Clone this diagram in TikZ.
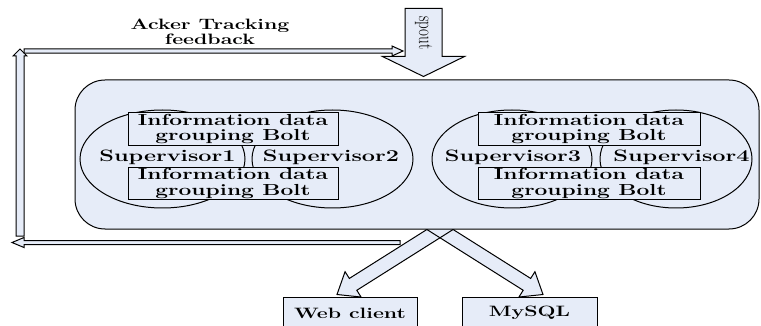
\documentclass[tikz,border=0pt]{standalone}
\usepackage{graphicx}
\usepackage{fontspec}
\usetikzlibrary{calc,shapes.geometric}
\definecolor{panelblue}{RGB}{230,236,248}

% wide, heavy lettering used throughout the figure
\newcommand\wide[1]{\scalebox{1.42}[1]{#1}}
\newcommand\twolines[2]{\wide{\begin{tabular}{@{}c@{}}#1\\#2\end{tabular}}}
\newcommand\heavy{\bfseries\addfontfeature{FakeBold=0.6}}

% outline of a block arrow: [style]{tail}{tip}{shaft half width}{head half width}{head length}
\newcommand\blockarrow[6][]{%
  \coordinate (ba-h) at ($(#3)!#6!(#2)$);
  \path[#1] ($(#2)!#4!90:(#3)$) -- ($(ba-h)!#4!-90:(#2)$) -- ($(ba-h)!#5!-90:(#2)$)
    -- (#3) -- ($(ba-h)!#5!90:(#2)$) -- ($(ba-h)!#4!90:(#2)$)
    -- ($(#2)!#4!-90:(#3)$) -- cycle;
}

\pgfdeclarelayer{behind}
\pgfsetlayers{behind,main}

\tikzset{
  panel/.style={draw, fill=panelblue, rounded corners=30pt, line width=1pt, inner sep=0pt},
  supnode/.style={ellipse, draw, line width=1pt, inner sep=0pt},
  bolt/.style={draw, fill=panelblue, line width=1pt, inner sep=0pt,
    font=\fontsize{16}{13.5}\selectfont\heavy},
  suplabel/.style={inner sep=0pt, font=\fontsize{16.5}{14}\selectfont\heavy},
  store/.style={draw, fill=panelblue, line width=1pt, inner sep=0pt,
    font=\fontsize{15}{14}\selectfont\heavy},
  arrowfill/.style={fill=panelblue},
  arrowline/.style={draw, line width=1pt, line join=miter},
}

\begin{document}
\begin{tikzpicture}[x=1pt, y=-1pt]
\useasboundingbox (0,0) rectangle (761,326);
\clip (0,0) rectangle (761,326);

% topology panel
\node[panel, minimum width=684pt, minimum height=149pt] (topo) at (417,154.5) {};

% supervisors
\node[supnode, minimum width=165pt, minimum height=98pt] (s1) at (162.5,159) {};
\node[supnode, minimum width=161pt, minimum height=98pt] (s2) at (332.5,159) {};
\node[supnode, minimum width=160pt, minimum height=98pt] (s3) at (512,159) {};
\node[supnode, minimum width=152pt, minimum height=98pt] (s4) at (676,159) {};

% bolts
\node[bolt, minimum width=210pt, minimum height=33pt] (b1) at (233,129.5) {\twolines{Information data}{grouping Bolt}};
\node[bolt, minimum width=210pt, minimum height=32pt] (b2) at (233,184) {\twolines{Information data}{grouping Bolt}};
\node[bolt, minimum width=222pt, minimum height=33pt] (b3) at (589,129.5) {\twolines{Information data}{grouping Bolt}};
\node[bolt, minimum width=222pt, minimum height=32pt] (b4) at (589,184) {\twolines{Information data}{grouping Bolt}};

\node[suplabel] (l1) at (167.5,157) {\wide{Supervisor1}};
\node[suplabel] (l2) at (331,157) {\wide{Supervisor2}};
\node[suplabel] (l3) at (513,157) {\wide{Supervisor3}};
\node[suplabel] (l4) at (681.5,157) {\wide{Supervisor4}};

% outputs
\node[store, minimum width=134pt, minimum height=32pt] (web) at (350,313) {\wide{Web client}};
\node[store, minimum width=135pt, minimum height=32pt] (sql) at (529.5,313) {\wide{MySQL}};

% outgoing arrows, starting under the panel
\begin{pgfonlayer}{behind}
  \coordinate (forkmid) at ($(topo.south)+(23,0)$);
  \coordinate (webtip) at ($(web.north)+(-13,-2)$);
  \coordinate (sqltip) at ($(sql.north)+(13.5,-2)$);
  \coordinate (webtail) at ($(webtip)!1.3!(forkmid)$);
  \coordinate (sqltail) at ($(sqltip)!1.3!(forkmid)$);
  \blockarrow[arrowfill]{webtail}{webtip}{7pt}{15pt}{19pt}
  \blockarrow[arrowfill]{sqltail}{sqltip}{7pt}{15pt}{19pt}
  \blockarrow[arrowline]{webtail}{webtip}{7pt}{15pt}{19pt}
  \blockarrow[arrowline]{sqltail}{sqltip}{7pt}{15pt}{19pt}
\end{pgfonlayer}

% spout input
\coordinate (spouttip) at ($(topo.north)+(6.5,-3)$);
\coordinate (spouttail) at ($(spouttip)+(0,-68)$);
\blockarrow[arrowfill, arrowline]{spouttail}{spouttip}{18.5pt}{41pt}{20pt}
\node[rotate=-90, inner sep=0pt, font=\fontsize{15}{15}\selectfont\addfontfeature{FakeBold=0.4}] (spoutlabel) at (423.5,33) {\scalebox{1}[1.42]{spout}};

% acker feedback loop
\coordinate (fbA) at (20,236);
\coordinate (fbB) at (20,49);
\coordinate (fbC) at (24,51);
\coordinate (fbD) at (403,51);
\coordinate (fbE) at (400,242.5);
\coordinate (fbF) at (12,242.5);
\blockarrow[arrowfill, arrowline]{fbA}{fbB}{4pt}{7pt}{7pt}
\blockarrow[arrowfill, arrowline]{fbC}{fbD}{2.2pt}{5pt}{11pt}
\blockarrow[arrowfill, arrowline]{fbE}{fbF}{2pt}{5pt}{12pt}
\node[inner sep=0pt, font=\fontsize{15}{14}\selectfont\heavy] (fblabel) at (210,34) {\twolines{Acker Tracking}{feedback}};
\end{tikzpicture}
\end{document}
